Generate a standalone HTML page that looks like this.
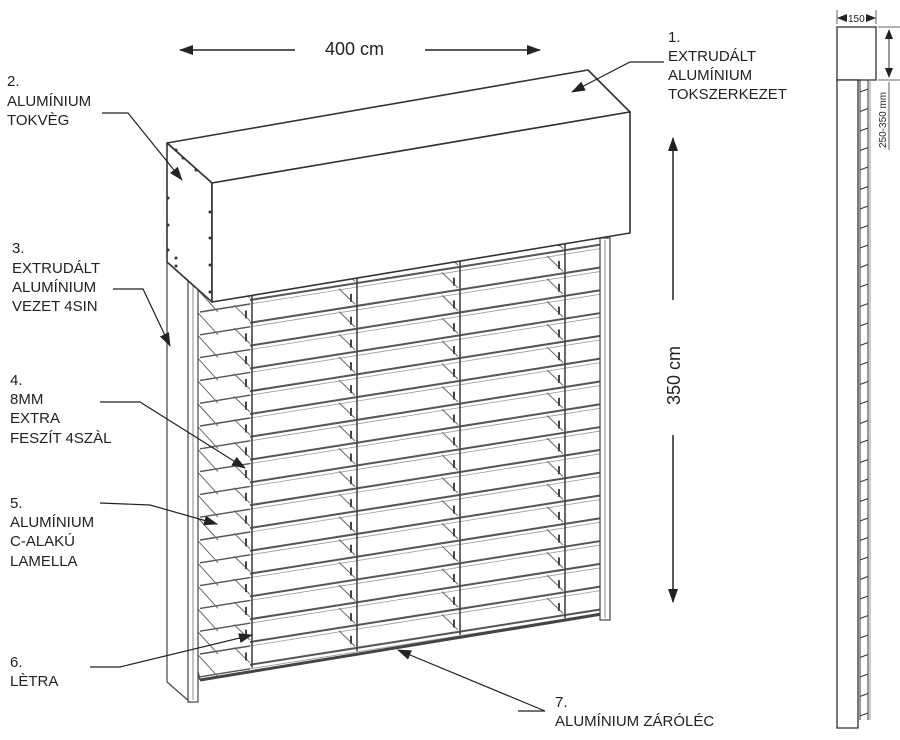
<!DOCTYPE html>
<html><head><meta charset="utf-8"><style>
html,body{margin:0;padding:0;background:#fff;}
svg{display:block;}
text{font-family:"Liberation Sans",sans-serif;font-size:15px;fill:#222;}
</style></head><body>
<svg id="s" width="900" height="740" viewBox="0 0 900 740" xmlns="http://www.w3.org/2000/svg">
<defs>
<marker id="ah" markerWidth="10" markerHeight="8" refX="9" refY="4" orient="auto" markerUnits="userSpaceOnUse">
<path d="M0,0 L10,4 L0,8 z" fill="#222"/></marker>
<marker id="ab" markerWidth="14" markerHeight="10" refX="13" refY="5" orient="auto" markerUnits="userSpaceOnUse">
<path d="M0,0 L14,5 L0,10 z" fill="#222"/></marker>
</defs>
<g id="slats" stroke="#444" fill="none"></g>
<!-- left guide & side plate -->
<g stroke="#444" fill="#fff">
<polygon points="167,262 190,282 190,702 167,682" stroke-width="1.2"/>
<rect x="188" y="280" width="10" height="422" stroke-width="1.2"/>
<line x1="193" y1="282" x2="193" y2="700" stroke="#888"/>
<rect x="600" y="238" width="10" height="382" stroke-width="1.2"/>
<line x1="605" y1="240" x2="605" y2="618" stroke="#888"/>
</g>
<!-- box -->
<g stroke="#333" stroke-width="1.6" fill="#fff" stroke-linejoin="round">
<polygon points="167,143 588,70 630,112 212,183"/>
<polygon points="167,143 212,183 212,302 167,262"/>
<polygon points="212,183 630,112 630,233 212,302"/>
</g>
<g fill="#333">
<circle cx="176" cy="150" r="1.5"/><circle cx="183" cy="158" r="1.5"/><circle cx="196" cy="170" r="1.5"/>
<circle cx="168" cy="198" r="1.5"/><circle cx="168" cy="225" r="1.5"/><circle cx="168" cy="250" r="1.5"/>
<circle cx="210" cy="212" r="1.5"/><circle cx="210" cy="238" r="1.5"/><circle cx="210" cy="265" r="1.5"/><circle cx="210" cy="292" r="1.5"/>
<circle cx="176" cy="258" r="1.5"/><circle cx="176" cy="266" r="1.5"/>
</g>
<!-- dimensions -->
<g stroke="#222" stroke-width="1.5">
<line x1="295" y1="50" x2="180" y2="50" marker-end="url(#ab)"/>
<line x1="425" y1="50" x2="540" y2="50" marker-end="url(#ab)"/>
<line x1="673" y1="300" x2="673" y2="138" marker-end="url(#ab)"/>
<line x1="673" y1="435" x2="673" y2="602" marker-end="url(#ab)"/>
</g>
<text x="325" y="55" style="font-size:18px">400 cm</text>
<text x="0" y="0" style="font-size:18px" transform="translate(680,405) rotate(-90)">350 cm</text>
<!-- leaders -->
<g stroke="#222" stroke-width="1.2" fill="none">
<polyline points="664,62 630,62 572,92" marker-end="url(#ab)"/>
<polyline points="102,113 128,113 182,180" marker-end="url(#ab)"/>
<polyline points="113,289 143,289 170,346" marker-end="url(#ab)"/>
<polyline points="100,402 140,402 245,468" marker-end="url(#ab)"/>
<polyline points="100,503 150,505 217,524" marker-end="url(#ab)"/>
<polyline points="90,667 120,667 252,635" marker-end="url(#ab)"/>
<polyline points="518,711 545,711 398,650" marker-end="url(#ab)"/>
</g>
<g>
<text x="668" y="42">1.</text><text x="668" y="61">EXTRUDÁLT</text><text x="668" y="80">ALUMÍNIUM</text><text x="668" y="99">TOKSZERKEZET</text>
<text x="7" y="86">2.</text><text x="7" y="106">ALUMÍNIUM</text><text x="7" y="125">TOKVÈG</text>
<text x="12" y="253">3.</text><text x="12" y="273">EXTRUDÁLT</text><text x="12" y="292">ALUMÍNIUM</text><text x="12" y="311">VEZET 4SIN</text>
<text x="10" y="385">4.</text><text x="10" y="404">8MM</text><text x="10" y="423">EXTRA</text><text x="10" y="443">FESZÍT 4SZÀL</text>
<text x="10" y="508">5.</text><text x="10" y="527">ALUMÍNIUM</text><text x="10" y="546">C-ALAKÚ</text><text x="10" y="566">LAMELLA</text>
<text x="10" y="667">6.</text><text x="10" y="686">LÈTRA</text>
<text x="555" y="707">7.</text><text x="555" y="726">ALUMÍNIUM ZÁRÓLÉC</text>
</g>
<!-- side profile -->
<g stroke="#333" fill="#fff">
<rect x="837" y="27" width="39" height="53" stroke-width="1.3"/>
<rect x="837" y="80" width="21" height="648" stroke-width="1.3"/>
<line x1="868" y1="80" x2="868" y2="720"/>
<line x1="870" y1="80" x2="870" y2="720" stroke="#999"/>
<line x1="878" y1="27" x2="900" y2="27" stroke-width="0.8"/>
<line x1="878" y1="80" x2="900" y2="80" stroke-width="0.8"/>
<line x1="837" y1="10" x2="837" y2="24" stroke-width="0.8"/>
<line x1="876" y1="10" x2="876" y2="24" stroke-width="0.8"/>
<line x1="889" y1="52" x2="889" y2="30" marker-end="url(#ah)" stroke-width="1"/>
<line x1="889" y1="52" x2="889" y2="77" marker-end="url(#ah)" stroke-width="1"/>
<line x1="889" y1="82" x2="889" y2="150" stroke-width="0.8"/>
<line x1="846" y1="18" x2="838" y2="18" marker-end="url(#ah)" stroke-width="1"/>
<line x1="866" y1="18" x2="875" y2="18" marker-end="url(#ah)" stroke-width="1"/>
</g>
<g id="rungs" stroke="#333"></g>
<text x="848" y="22" style="font-size:10px">150</text>
<text x="0" y="0" style="font-size:10px" transform="translate(886,148) rotate(-90)">250-350 mm</text>
</svg>
<script>
var ns="http://www.w3.org/2000/svg";
function L(g,x1,y1,x2,y2,w,c){var l=document.createElementNS(ns,"line");l.setAttribute("x1",x1);l.setAttribute("y1",y1);l.setAttribute("x2",x2);l.setAttribute("y2",y2);l.setAttribute("stroke-width",w);if(c)l.setAttribute("stroke",c);g.appendChild(l);}
var g=document.getElementById("slats");
var k=-0.158;
function Y(y0,x){return y0+k*(x-250);}
var cols=[252,357,460,565];
for(var i=0;i<17;i++){
 var y0=300+i*22.8;
 L(g,250,Y(y0,250),605,Y(y0,605),2,"#555");
 L(g,250,Y(y0,250)+4,605,Y(y0,605)+4,0.8,"#999");
 // left protrusion
 L(g,200,Y(y0,250)+12,250,Y(y0,250)+4,1.4,"#555");
 L(g,198,Y(y0,250)-10,218,Y(y0,250)+12,1,"#666");
 for(var j=0;j<cols.length;j++){
  var x=cols[j];
  L(g,x-18,Y(y0,x-18)-20,x-2,Y(y0,x-2)-2,1,"#666");
  L(g,x-6,Y(y0,x)-12,x-6,Y(y0,x)-4,2,"#444");
 }
}
// columns
for(var j=0;j<cols.length;j++){var x=cols[j];L(g,x,Y(300,x)-12,x,Y(668,x),1.6,"#444");}
L(g,200,680,608,613,3,"#444");
L(g,198,672,200,680,1.5,"#444");
var r=document.getElementById("rungs");
for(var yy=92;yy<720;yy+=19.5){L(r,860,yy,868,yy-3,1,"#333");}
L(r,860,80,860,720,1,"#333");
</script>
</body></html>
